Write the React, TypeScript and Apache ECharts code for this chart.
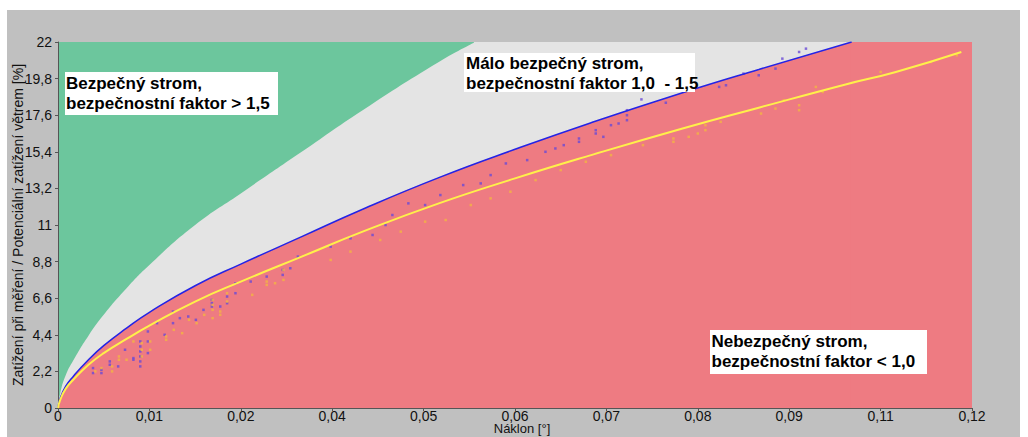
import React, { useEffect, useRef } from "react";
import * as echarts from "echarts";

// Tick labels as printed on the original chart
const xTickLabels = ["0", "0,01", "0,02", "0,04", "0,05", "0,06", "0,07", "0,08", "0,09", "0,11", "0,12"];
const yTickLabels = ["0", "2,2", "4,4", "6,6", "8,8", "11", "13,2", "15,4", "17,6", "19,8", "22"];

// Boundary between "safe" (green) and "less safe" (grey) zones
const safeBoundary: number[][] = [
  [0, 0], [0.0003, 0.9], [0.001, 1.95], [0.002, 2.85], [0.004, 4.35], [0.006, 5.6],
  [0.009, 7.2], [0.012, 8.6], [0.018, 11.0], [0.024, 12.9], [0.032, 15.4],
  [0.04, 17.9], [0.05, 20.8], [0.0548, 22],
];
const safeTop: number[][] = [[0.0546, 22], [0.12, 22]];

// Blue limit line (safety factor 1.0)
const blueLine: number[][] = [
  [0, 0], [0.0003, 0.6], [0.001, 1.3], [0.002, 1.9], [0.004, 2.9], [0.006, 3.75],
  [0.009, 4.8], [0.012, 5.75], [0.018, 7.35], [0.024, 8.65], [0.032, 10.3],
  [0.04, 11.95], [0.05, 13.85], [0.06, 15.55], [0.07, 17.15], [0.082, 18.95],
  [0.092, 20.35], [0.1042, 22],
];
const dangerTop: number[][] = [[0.1040, 22], [0.12, 22]];

// Yellow line
const yellowLine: number[][] = [
  [0, 0], [0.0003, 0.5], [0.001, 1.15], [0.002, 1.7], [0.004, 2.6], [0.006, 3.3],
  [0.009, 4.15], [0.012, 4.95], [0.018, 6.4], [0.024, 7.6], [0.032, 9.1],
  [0.04, 10.6], [0.05, 12.3], [0.06, 13.8], [0.07, 15.2], [0.082, 16.8],
  [0.092, 18.05], [0.1034, 19.45], [0.11, 20.2], [0.1186, 21.4],
];

// Measured points (blue/purple)
const bluePoints: number[][] = [
  [0.0046, 2.1], [0.0046, 2.4], [0.0057, 2.1], [0.0057, 2.3], [0.0068, 2.8], [0.0068, 2.6],
  [0.0079, 2.5], [0.0088, 3.5], [0.0099, 3.0], [0.0099, 2.9], [0.0108, 2.5], [0.0108, 2.8],
  [0.0108, 3.1], [0.0108, 3.4], [0.0108, 3.7], [0.0108, 4.0], [0.0118, 3.3], [0.0118, 4.0],
  [0.0118, 4.6], [0.013, 5.1], [0.014, 4.4], [0.0151, 5.1], [0.0151, 5.8], [0.016, 5.4],
  [0.0171, 5.5], [0.0181, 5.3], [0.0191, 5.9], [0.0202, 6.1], [0.0202, 6.3], [0.0202, 6.5],
  [0.0213, 6.1], [0.0222, 6.3], [0.0222, 6.7], [0.0233, 6.9], [0.0233, 7.5], [0.0253, 7.6],
  [0.0274, 7.9], [0.0295, 8.0], [0.0295, 8.3], [0.0305, 8.4], [0.0315, 9.1], [0.0358, 9.7],
  [0.0384, 10.2], [0.0413, 10.4], [0.043, 11.0], [0.0439, 11.6], [0.046, 12.3], [0.0482, 12.2],
  [0.0502, 12.8], [0.0532, 13.4], [0.0555, 13.5], [0.0568, 14.0], [0.0588, 14.7], [0.0616, 14.9],
  [0.064, 15.4], [0.0653, 15.6], [0.0664, 15.8], [0.0684, 16.0], [0.0684, 16.2], [0.0706, 16.5],
  [0.0706, 16.7], [0.0716, 16.3], [0.0726, 17.0], [0.0736, 17.1], [0.0747, 17.3], [0.0747, 17.6],
  [0.0747, 17.9], [0.0766, 18.55], [0.0798, 18.35], [0.0868, 19.3], [0.0877, 19.4], [0.09, 20.1],
  [0.092, 20.0], [0.0942, 20.4], [0.0951, 21.0], [0.0973, 21.4], [0.0982, 21.6],
];

// Measured points (orange)
const orangePoints: number[][] = [
  [0.0049, 2.2], [0.0057, 2.4], [0.0071, 2.2], [0.0071, 2.5], [0.008, 3.1], [0.008, 2.9],
  [0.009, 2.9], [0.0099, 4.0], [0.011, 3.9], [0.011, 3.5], [0.011, 3.1], [0.0121, 4.0],
  [0.0121, 3.5], [0.0142, 4.3], [0.0142, 4.1], [0.0152, 4.7], [0.0163, 4.5], [0.0172, 5.3],
  [0.0182, 5.1], [0.0192, 5.6], [0.0203, 5.4], [0.0203, 5.9], [0.0203, 6.2], [0.0203, 6.5],
  [0.0213, 5.6], [0.0213, 5.8], [0.0222, 6.4], [0.0222, 6.9], [0.0255, 6.8], [0.0274, 7.4],
  [0.0274, 7.6], [0.0285, 7.5], [0.0296, 7.7], [0.0296, 8.3], [0.0358, 8.9], [0.0384, 9.4],
  [0.0423, 10.1], [0.045, 10.6], [0.0482, 11.2], [0.0509, 11.3], [0.0542, 12.2], [0.0568, 12.6],
  [0.0594, 13.0], [0.0627, 13.7], [0.066, 14.3], [0.0693, 14.8], [0.0726, 15.2], [0.0768, 15.8],
  [0.0808, 16.0], [0.0808, 16.2], [0.0828, 16.3], [0.084, 16.5], [0.085, 16.7], [0.085, 17.0],
  [0.087, 17.2], [0.0923, 17.7], [0.0942, 18.0], [0.0953, 18.5], [0.0973, 17.9], [0.0973, 18.2],
  [0.0995, 19.3], [0.1004, 19.0], [0.108, 20.2], [0.1146, 20.8], [0.118, 21.2],
];

const zoneTexts = [
  "Bezpečný strom,\nbezpečnostní faktor > 1,5",
  "Málo bezpečný strom,\nbezpečnostní faktor 1,0  - 1,5",
  "Nebezpečný strom,\nbezpečnostní faktor < 1,0",
];

const FONT = "'Liberation Sans', Arial, sans-serif";

export default function App() {
  const ref = useRef<HTMLDivElement>(null);
  useEffect(() => {
    if (!ref.current) return;
    const chart = echarts.init(ref.current, undefined, { renderer: "svg" });
    const boxFont = `bold 17px ${FONT}`;
    const curve = { smooth: 0.5, symbol: "none" };
    const option: any = {
      animation: false,
      backgroundColor: "#c0c0c0",
      textStyle: { fontFamily: FONT },
      grid: {
        left: 51, top: 32, width: 914, height: 366,
        containLabel: false, outerBoundsMode: "none",
        show: true, backgroundColor: "#6cc69d", borderWidth: 0,
      },
      xAxis: {
        type: "value", min: 0, max: 0.12, interval: 0.012,
        name: "Náklon [°]", nameLocation: "middle", nameGap: 15, nameMoveOverlap: false,
        nameTextStyle: { fontSize: 13, lineHeight: 11, color: "#111", fontFamily: FONT, padding: [0, 0, 0, 14] },
        axisLine: { show: true, lineStyle: { color: "#555", width: 1 } },
        axisTick: { show: true, length: 3, lineStyle: { color: "#555" } },
        splitLine: { show: false },
        axisLabel: {
          fontSize: 14, lineHeight: 12, color: "#111", margin: 2, fontFamily: FONT,
          formatter: (v: number) => xTickLabels[Math.round(v / 0.012)] ?? "",
        },
      },
      yAxis: {
        type: "value", min: 0, max: 22, interval: 2.2,
        name: "Zatížení při měření / Potenciální zatížení větrem [%]",
        nameLocation: "middle", nameGap: 33, nameMoveOverlap: false,
        nameTextStyle: { fontSize: 14, color: "#111", fontFamily: FONT },
        axisLine: { show: true, lineStyle: { color: "#555", width: 1 } },
        axisTick: { show: true, length: 3, lineStyle: { color: "#555" } },
        splitLine: { show: false },
        axisLabel: {
          fontSize: 14, color: "#111", margin: 6, fontFamily: FONT,
          formatter: (v: number) => yTickLabels[Math.round(v / 2.2)] ?? "",
        },
      },
      series: [
        {
          type: "line", data: safeBoundary, ...curve,
          lineStyle: { width: 0 },
          areaStyle: { color: "#e4e4e4", opacity: 1 }, z: 1, silent: true,
        },
        {
          type: "line", data: safeTop, symbol: "none",
          lineStyle: { width: 0 },
          areaStyle: { color: "#e4e4e4", opacity: 1 }, z: 1, silent: true,
        },
        {
          type: "line", data: blueLine, ...curve,
          lineStyle: { width: 0 },
          areaStyle: { color: "#ee7b82", opacity: 1 }, z: 2, silent: true,
        },
        {
          type: "line", data: dangerTop, symbol: "none",
          lineStyle: { width: 0 },
          areaStyle: { color: "#ee7b82", opacity: 1 }, z: 2, silent: true,
        },
        {
          type: "scatter", data: bluePoints, symbol: "rect", symbolSize: 2.5,
          itemStyle: { color: "#6a4bd6" }, z: 3,
        },
        {
          type: "scatter", data: orangePoints, symbol: "rect", symbolSize: 2.5,
          itemStyle: { color: "#f2b443" }, z: 3,
        },
        {
          type: "line", data: blueLine, ...curve,
          lineStyle: { width: 1.5, color: "#2424e6" }, z: 4,
        },
        {
          type: "line", data: yellowLine, ...curve,
          lineStyle: { width: 2, color: "#fff04a" }, z: 4,
        },
      ],
      graphic: [
        { type: "rect", shape: { x: 58, y: 62, width: 213, height: 43 }, style: { fill: "#fff" }, z: 10 },
        { type: "text", x: 59, y: 63, z: 11, style: { text: zoneTexts[0], font: boxFont, fill: "#000", lineHeight: 20, verticalAlign: "top" } },
        { type: "rect", shape: { x: 457, y: 43, width: 231, height: 39 }, style: { fill: "#fff" }, z: 10 },
        { type: "text", x: 459, y: 43, z: 11, style: { text: zoneTexts[1], font: boxFont, fill: "#000", lineHeight: 20, verticalAlign: "top" } },
        { type: "rect", shape: { x: 703, y: 320, width: 217, height: 44 }, style: { fill: "#fff" }, z: 10 },
        { type: "text", x: 704.5, y: 321, z: 11, style: { text: zoneTexts[2], font: boxFont, fill: "#000", lineHeight: 20, verticalAlign: "top" } },
      ],
    };
    chart.setOption(option);
    return () => chart.dispose();
  }, []);
  return (
    <div
      ref={ref}
      style={{ position: "absolute", left: 7, top: 10, width: 1013, height: 427 }}
    />
  );
}
